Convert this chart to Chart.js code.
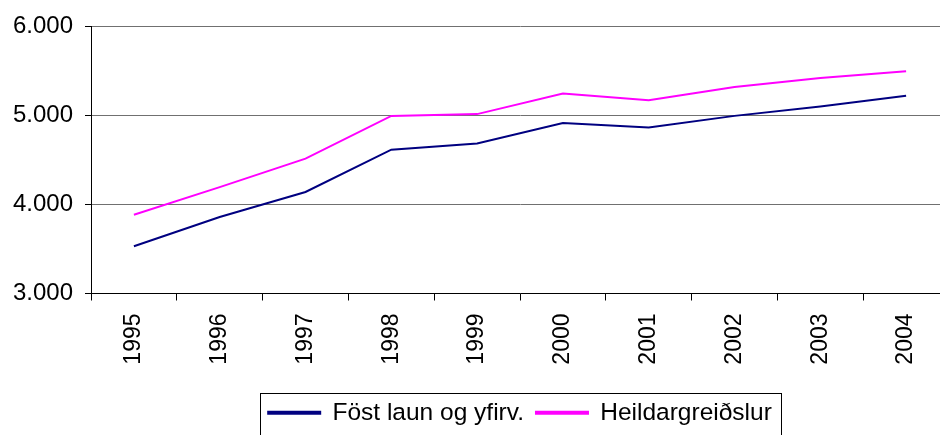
<!DOCTYPE html>
<html>
<head>
<meta charset="utf-8">
<script src="https://cdn.jsdelivr.net/npm/chart.js@4/dist/chart.umd.min.js"></script>
<style>
    html, body { margin: 0; padding: 0; background: #fff; overflow: hidden; }
    #wrap { width: 949px; height: 435px; }
</style>
</head>
<body>
<div id="wrap"><canvas id="lineChart" width="949" height="435"></canvas></div>
<script>
// Data
var years = ['1995', '1996', '1997', '1998', '1999', '2000', '2001', '2002', '2003', '2004'];
var fastLaun = [3530, 3860, 4140, 4615, 4685, 4915, 4865, 4995, 5100, 5220];
var heildar = [3885, 4195, 4515, 4995, 5015, 5245, 5170, 5320, 5420, 5495];
var seriesNames = ['Föst laun og yfirv.', 'Heildargreiðslur'];
var yTicks = [3000, 4000, 5000, 6000];

var fontFamily = "'Liberation Sans', Arial, sans-serif";

function formatThousands(v) {
    return String(v).replace(/\B(?=(\d{3})+(?!\d))/g, '.');
}

// box round the legend, like the old spreadsheet chart
var legendFrame = {
    id: 'legendFrame',
    afterDraw: function(chart) {
        var boxes = chart.legend.legendHitBoxes;
        if (!boxes || !boxes.length) return;
        var first = boxes[0], last = boxes[boxes.length - 1];
        var ctx = chart.ctx;
        ctx.save();
        ctx.strokeStyle = '#000';
        ctx.lineWidth = 1;
        ctx.strokeRect(Math.round(first.left - 8) + 0.5, 393.5, Math.round(last.left + last.width - first.left + 17), 60);
        ctx.restore();
    }
};

var ctx = document.getElementById('lineChart').getContext('2d');
var chart = new Chart(ctx, {
    type: 'line',
    data: {
        labels: years,
        datasets: [{
            label: seriesNames[0],
            data: fastLaun,
            borderColor: '#000080',
            backgroundColor: '#000080',
            borderWidth: 2,
            pointRadius: 0,
            tension: 0
        }, {
            label: seriesNames[1],
            data: heildar,
            borderColor: '#FF00FF',
            backgroundColor: '#FF00FF',
            borderWidth: 2,
            pointRadius: 0,
            tension: 0
        }]
    },
    options: {
        responsive: false,
        animation: false,
        devicePixelRatio: 1,
        layout: {
            padding: { top: 12, left: 0, right: 0, bottom: 0 }
        },
        plugins: {
            legend: {
                position: 'bottom',
                fullSize: false,
                labels: {
                    color: '#000',
                    font: { family: fontFamily, size: 24.5 },
                    boxWidth: 52,
                    boxHeight: 2,
                    padding: 12
                }
            },
            tooltip: { enabled: false }
        },
        scales: {
            x: {
                offset: true,
                border: { display: true, color: '#000', width: 1 },
                grid: {
                    offset: true,
                    drawOnChartArea: false,
                    drawTicks: true,
                    tickLength: 7,
                    color: '#000'
                },
                ticks: {
                    color: '#000',
                    font: { family: fontFamily, size: 23 },
                    minRotation: 90,
                    maxRotation: 90,
                    padding: 13
                },
                afterFit: function(scale) {
                    scale.height = 95;
                }
            },
            y: {
                min: 3000,
                max: 6000,
                border: { display: true, color: '#000', width: 1 },
                grid: {
                    color: '#707070',
                    lineWidth: 1,
                    drawTicks: true,
                    tickLength: 6,
                    tickColor: '#000'
                },
                afterBuildTicks: function(scale) {
                    scale.ticks = yTicks.map(function(v) { return { value: v }; });
                },
                ticks: {
                    color: '#000',
                    font: { family: fontFamily, size: 24 },
                    padding: 12,
                    callback: function(v) { return formatThousands(v); }
                },
                afterFit: function(scale) {
                    scale.width = 91;
                }
            }
        }
    },
    plugins: [legendFrame]
});
</script>
</body>
</html>
